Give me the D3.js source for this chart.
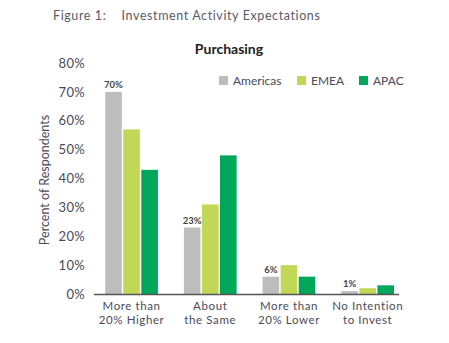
<!DOCTYPE html>
<html>
<head>
<meta charset="utf-8">
<script src="https://cdn.jsdelivr.net/npm/d3@7"></script>
<style>
  body { margin: 0; background: #fff; }
  svg text { font-family: Lato, "Noto Sans", sans-serif; }
</style>
</head>
<body>
<div id="container"></div>
<script>
// chart values
var categories = [["More than", "20% Higher"], ["About", "the Same"], ["More than", "20% Lower"], ["No Intention", "to Invest"]];
var seriesNames = ["Americas", "EMEA", "APAC"];
var americas = [70, 23, 6, 1];
var emea = [57, 31, 10, 2];
var apac = [43, 48, 6, 3];
var yTicks = [0, 10, 20, 30, 40, 50, 60, 70, 80];

var colors = ["#bdbdbd", "#c1d856", "#00a65a"];
var seriesValues = [americas, emea, apac];

var width = 449, height = 343;

var svg = d3.select("#container").append("svg")
    .attr("width", width)
    .attr("height", height);

var x = d3.scaleBand()
    .domain(d3.range(categories.length))
    .range([92.2, 407])
    .paddingInner(0.33)
    .paddingOuter(0.165);

var xs = d3.scaleBand()
    .domain(d3.range(seriesNames.length))
    .range([0, x.bandwidth()])
    .paddingInner(0.08);

var y = d3.scaleLinear().domain([0, 80]).range([294, 63]);

// titles
svg.append("text")
    .attr("x", 53).attr("y", 20)
    .attr("fill", "#5a5a6a")
    .style("font-size", "12.5px")
    .style("letter-spacing", "0.6px")
    .attr("xml:space", "preserve")
    .text("Figure 1:    Investment Activity Expectations");

svg.append("text")
    .attr("x", 229).attr("y", 54)
    .attr("text-anchor", "middle")
    .attr("fill", "#222")
    .style("font-size", "14px")
    .style("font-weight", "bold")
    .text("Purchasing");

// y axis
var yAxis = d3.axisLeft(y)
    .tickValues(yTicks)
    .tickFormat(function(d) { return d + "%"; })
    .tickSize(0)
    .tickPadding(0);

var gy = svg.append("g")
    .attr("transform", "translate(85,0)")
    .call(yAxis);
gy.select(".domain").remove();
gy.selectAll("text")
    .attr("fill", "#4a4a5a")
    .style("font-size", "13px")
    .style("letter-spacing", "0.3px")
    .style("font-family", "Lato, 'Noto Sans', sans-serif");

svg.append("text")
    .attr("transform", "translate(49,180) rotate(-90)")
    .attr("text-anchor", "middle")
    .attr("fill", "#4a4a5a")
    .style("font-size", "12.5px")
    .text("Percent of Respondents");

// bars
var groups = svg.selectAll(".grp")
    .data(categories)
    .enter().append("g")
    .attr("class", "grp")
    .attr("transform", function(d, i) { return "translate(" + x(i) + ",0)"; });

groups.selectAll("rect")
    .data(function(d, i) { return seriesValues.map(function(s, j) { return { s: j, v: s[i] }; }); })
    .enter().append("rect")
    .attr("x", function(d) { return xs(d.s); })
    .attr("width", xs.bandwidth())
    .attr("y", function(d) { return y(d.v); })
    .attr("height", function(d) { return y(0) - y(d.v); })
    .attr("fill", function(d) { return colors[d.s]; });

// value labels on Americas
groups.append("text")
    .attr("x", xs(0) + xs.bandwidth() / 2)
    .attr("y", function(d, i) { return y(americas[i]) - 4; })
    .attr("text-anchor", "middle")
    .attr("fill", "#444")
    .style("font-size", "9.5px")
    .style("font-weight", "bold")
    .text(function(d, i) { return americas[i] + "%"; });

// x axis line
svg.append("line")
    .attr("x1", 94).attr("x2", 399)
    .attr("y1", y(0) + 0.5).attr("y2", y(0) + 0.5)
    .attr("stroke", "#555")
    .attr("stroke-width", 1.5);

// category labels
var xl = groups.append("text")
    .attr("text-anchor", "middle")
    .attr("fill", "#4a4a5a")
    .style("font-size", "11.5px")
    .style("letter-spacing", "0.6px");
xl.append("tspan")
    .attr("x", x.bandwidth() / 2).attr("y", 310)
    .text(function(d) { return d[0]; });
xl.append("tspan")
    .attr("x", x.bandwidth() / 2).attr("y", 324)
    .text(function(d) { return d[1]; });

// legend
var legX = [219, 297, 359];
var leg = svg.selectAll(".leg")
    .data(seriesNames)
    .enter().append("g")
    .attr("class", "leg")
    .attr("transform", function(d, i) { return "translate(" + legX[i] + ",76)"; });
leg.append("rect")
    .attr("width", 9).attr("height", 9)
    .attr("fill", function(d, i) { return colors[i]; });
leg.append("text")
    .attr("x", 14).attr("y", 8.5)
    .attr("fill", "#4a4a5a")
    .style("font-size", "12px")
    .text(function(d) { return d; });
</script>
</body>
</html>
